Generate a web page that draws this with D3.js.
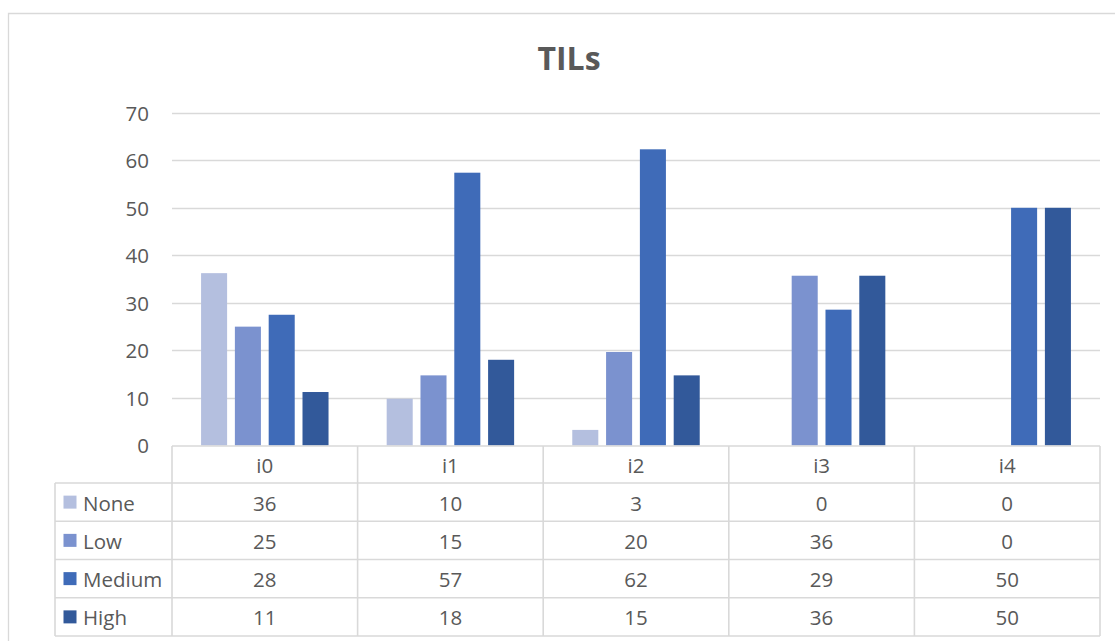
<!DOCTYPE html>
<html>
<head>
<meta charset="utf-8">
<script src="https://cdn.jsdelivr.net/npm/d3@7"></script>
<style>
  html, body { margin: 0; padding: 0; background: #ffffff; }
  svg { display: block; font-family: "Open Sans", "Noto Sans", sans-serif; }
</style>
</head>
<body>
<svg id="chart" width="1115" height="641"></svg>
<script>
// Share of cases (%) per TIL level in each group
const categories = ["i0", "i1", "i2", "i3", "i4"];
const seriesNames = ["None", "Low", "Medium", "High"];
const noneValues   = [36.25, 9.84, 3.28, 0, 0];
const lowValues    = [25, 14.75, 19.67, 35.71, 0];
const mediumValues = [27.5, 57.38, 62.30, 28.57, 50];
const highValues   = [11.25, 18.03, 14.75, 35.71, 50];
const yTicks = [0, 10, 20, 30, 40, 50, 60, 70];
const title = "TILs";

const seriesValues = [noneValues, lowValues, mediumValues, highValues];
const colors = ["#b4bfdf", "#7b92cf", "#3f6bb8", "#32599a"];

const svg = d3.select("#chart");
const textColor = "#595959";
const lineColor = "#d9d9d9";
const fontSize = 20.5;

// outer chart frame
svg.append("path")
  .attr("d", "M8.5,660 L8.5,13.5 L1140,13.5")
  .attr("fill", "none")
  .attr("stroke", lineColor)
  .attr("stroke-width", 1.3);

// title
svg.append("text")
  .attr("x", 569)
  .attr("y", 69.5)
  .attr("text-anchor", "middle")
  .attr("font-size", 32)
  .attr("font-weight", "bold")
  .attr("fill", textColor)
  .text(title);

const plotLeft = 172, plotRight = 1100;
const y = d3.scaleLinear().domain([0, 70]).range([445.5, 112.7]);
const x0 = d3.scaleBand().domain(categories).range([plotLeft, plotRight]).padding(0);
const x1 = d3.scaleBand().domain(seriesNames).range([0, x0.bandwidth()])
  .paddingInner(0.23).paddingOuter(0.86);

// gridlines
svg.append("g").selectAll("line")
  .data(yTicks.filter(t => t > 0))
  .join("line")
  .attr("x1", plotLeft).attr("x2", plotRight)
  .attr("y1", d => Math.round(y(d)) + 0.5)
  .attr("y2", d => Math.round(y(d)) + 0.5)
  .attr("stroke", lineColor)
  .attr("stroke-width", 1.3);

// y axis labels
const yAxis = d3.axisLeft(y).tickValues(yTicks).tickSize(0).tickPadding(0);
const yAxisG = svg.append("g")
  .attr("transform", "translate(149,0)")
  .call(yAxis);
yAxisG.select(".domain").remove();
yAxisG.selectAll("text")
  .attr("font-family", "\"Open Sans\", sans-serif")
  .attr("font-size", fontSize)
  .attr("fill", textColor)
  .attr("dy", "0.36em")
  .attr("x", 0);

// bars
const barData = [];
seriesNames.forEach((s, si) => {
  categories.forEach((c, ci) => {
    barData.push({ series: s, cat: c, value: seriesValues[si][ci], color: colors[si] });
  });
});
svg.append("g").selectAll("rect")
  .data(barData.filter(d => d.value > 0))
  .join("rect")
  .attr("x", d => x0(d.cat) + x1(d.series))
  .attr("width", x1.bandwidth())
  .attr("y", d => y(d.value))
  .attr("height", d => y(0) - y(d.value))
  .attr("fill", d => d.color);

// data table
const headerTop = 446, headerBottom = 483, rowH = 38.25;
const tableLeft = 55;
const rowTop = i => headerBottom + i * rowH;
const tableBottom = rowTop(seriesNames.length);
const tbl = svg.append("g")
  .attr("stroke", lineColor)
  .attr("stroke-width", 1.6)
  .attr("fill", "none");

// horizontal rules
tbl.append("line").attr("x1", plotLeft).attr("x2", plotRight)
  .attr("y1", headerTop).attr("y2", headerTop);
d3.range(seriesNames.length + 1).forEach(i => {
  tbl.append("line").attr("x1", tableLeft).attr("x2", plotRight)
    .attr("y1", rowTop(i)).attr("y2", rowTop(i));
});
// vertical rules
categories.concat([null]).forEach((c, i) => {
  const xv = c === null ? plotRight : x0(c);
  tbl.append("line").attr("x1", xv).attr("x2", xv)
    .attr("y1", headerTop).attr("y2", tableBottom);
});
tbl.append("line").attr("x1", tableLeft).attr("x2", tableLeft)
  .attr("y1", headerBottom).attr("y2", tableBottom);

const txt = svg.append("g")
  .attr("font-size", fontSize)
  .attr("fill", textColor);

// category header
txt.selectAll("text.cat")
  .data(categories)
  .join("text")
  .attr("class", "cat")
  .attr("x", d => x0(d) + x0.bandwidth() / 2)
  .attr("y", (headerTop + headerBottom) / 2 + 1)
  .attr("text-anchor", "middle")
  .attr("dy", "0.36em")
  .text(d => d);

// legend keys and series names
seriesNames.forEach((s, si) => {
  const cy = rowTop(si) + rowH / 2;
  svg.append("rect")
    .attr("x", 63.5).attr("y", cy - 6.5)
    .attr("width", 13).attr("height", 13)
    .attr("fill", colors[si]);
  txt.append("text")
    .attr("x", 83)
    .attr("y", cy + 1)
    .attr("dy", "0.36em")
    .text(s);
});

// value cells
const fmt = d3.format(".0f");
seriesNames.forEach((s, si) => {
  const cy = rowTop(si) + rowH / 2;
  txt.append("g").selectAll("text")
    .data(categories)
    .join("text")
    .attr("x", d => x0(d) + x0.bandwidth() / 2)
    .attr("y", cy + 1)
    .attr("dy", "0.36em")
    .attr("text-anchor", "middle")
    .text((d, ci) => fmt(seriesValues[si][ci]));
});
</script>
</body>
</html>
